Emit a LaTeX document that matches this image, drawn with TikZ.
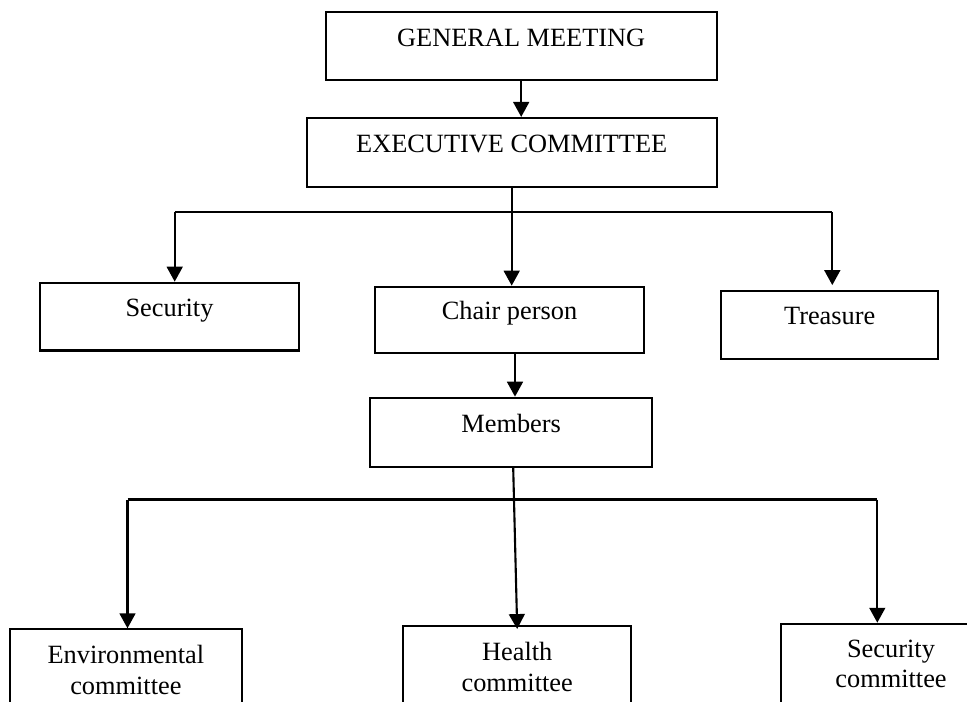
\documentclass[tikz,border=0pt]{standalone}
\usepackage{fontspec}
\setmainfont{Liberation Serif}
\usepackage{tikz}
\usetikzlibrary{arrows.meta}

\begin{document}
\begin{tikzpicture}[x=0.02cm,y=-0.02cm,
    box/.style={draw, line width=1.2pt, inner sep=0pt, text height=0pt, text depth=0pt,
                font=\fontsize{15}{18}\selectfont},
    subbox/.style={draw, line width=1.2pt, anchor=north, inner xsep=0pt, inner ysep=9pt,
                align=center, font=\fontsize{15}{17.6}\selectfont},
    arr/.style={line width=1.2pt, -{Triangle[length=8.5pt,width=9pt]}},
    link/.style={line width=1.2pt}]
    \useasboundingbox (0,0) rectangle (967,701);
    \clip (0,0) rectangle (967,701);

    \node[box, minimum width=7.82cm, minimum height=1.354cm] (gm) at (521.2,46.2) {GENERAL MEETING};
    \node[box, minimum width=8.2cm, minimum height=1.374cm] (ec) at (511.7,152.3) {EXECUTIVE COMMITTEE};

    \node[box, minimum width=5.18cm, minimum height=1.356cm] (sec) at (169.5,316.6) {Security};
    \node[box, minimum width=5.38cm, minimum height=1.32cm] (chair) at (509.5,319.7) {Chair person};
    \node[box, minimum width=4.346cm, minimum height=1.366cm] (treas) at (829.7,324.8) {Treasure};
    \node[box, minimum width=5.646cm, minimum height=1.38cm] (mem) at (511.2,432.2) {Members};

    \node[subbox, minimum width=4.634cm] (env) at (125.9,628.3) {Environmental\\committee};
    \node[subbox, minimum width=4.554cm] (health) at (517.2,625) {Health\\committee};
    \node[subbox, minimum width=4.4cm] (secc) at (891,622.7) {Security\\committee};

    \coordinate (topl) at (174.7,212.3);
    \coordinate (topr) at (832.3,212.3);
    \coordinate (botl) at (127.5,499.5);
    \coordinate (botr) at (877.3,499.5);

    \draw[arr] (gm.south) -- (gm.south |- ec.north);
    \draw[link] (topl) -- (topr);
    \draw[arr] (ec.south) -- (ec.south |- chair.north);
    \draw[arr] (topl) -- (topl |- sec.north);
    \draw[arr, shorten >=0.09cm] (topr) -- (topr |- treas.north);

    \draw[arr] ([xshift=0.11cm]chair.south) -- ([xshift=0.11cm]chair.south |- mem.north);
    \draw[link] (botl) -- (botr);
    \draw[arr] ([xshift=0.04cm]mem.south) -- ([yshift=-0.08cm]health.north);
    \draw[arr] (botl) -- (botl |- env.north);
    \draw[arr] (botr) -- (botr |- secc.north);
\end{tikzpicture}
\end{document}
